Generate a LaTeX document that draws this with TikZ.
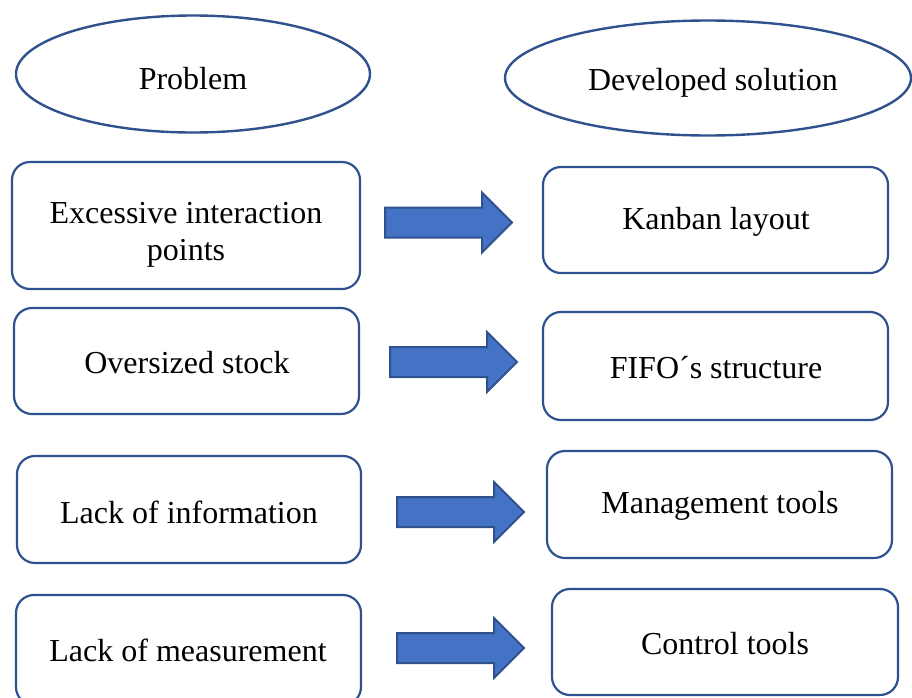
\documentclass[tikz,border=0pt]{standalone}
\usepackage{fontspec}
\setmainfont{Liberation Serif}
\usetikzlibrary{shapes.geometric}
\definecolor{edgeblue}{HTML}{2F528F}
\definecolor{fillblue}{HTML}{4472C4}
\tikzset{
  oval/.style={ellipse, draw=edgeblue, line width=2.4pt, inner sep=0pt},
  card/.style={draw=edgeblue, line width=2.2pt, rounded corners=18pt, inner sep=0pt},
  lbl/.style={font=\fontsize{32}{37}\selectfont, align=center, inner sep=0pt, yshift=-3pt},
  blk/.style={draw=edgeblue, fill=fillblue, line width=2pt, line join=miter}
}
\newcommand{\blockarr}[3]{%
  \draw[blk] (#1,#2) coordinate (#3) -- ++(0,-15) -- ++(97,0) -- ++(0,-15) -- ++(30,30) -- ++(-30,30) -- ++(0,-15) -- ++(-97,0) -- cycle;}
\begin{document}
\begin{tikzpicture}[x=1pt,y=-1pt]
\useasboundingbox (0,0) rectangle (912,697);
\begin{scope}
\clip (0,0) rectangle (912,697);
% headers
\node[oval, minimum width=354pt, minimum height=117pt] (hp) at (193,74) {};
\node[lbl] (hpt) at (193,76) {Problem};
\node[oval, minimum width=406pt, minimum height=115pt] (hs) at (708,78) {};
\node[lbl] (hst) at (713,80) {Developed solution};
% left boxes
\node[card, minimum width=348pt, minimum height=127pt] (p1) at (186,225.5) {};
\node[lbl] (p1t) at (186,232) {Excessive interaction\\points};
\node[card, minimum width=345pt, minimum height=106pt] (p2) at (186.5,361) {};
\node[lbl] (p2t) at (187,360) {Oversized stock};
\node[card, minimum width=344pt, minimum height=107pt] (p3) at (189,509.5) {};
\node[lbl] (p3t) at (189,509) {Lack of information};
\node[card, minimum width=345pt, minimum height=110pt] (p4) at (188.5,650) {};
\node[lbl] (p4t) at (188,647) {Lack of measurement};
% right boxes
\node[card, minimum width=345pt, minimum height=106pt] (s1) at (715.5,220) {};
\node[lbl] (s1t) at (716,219) {Kanban layout};
\node[card, minimum width=345pt, minimum height=108pt] (s2) at (715.5,366) {};
\node[lbl] (s2t) at (716,365) {FIFO´s structure};
\node[card, minimum width=345pt, minimum height=107pt] (s3) at (719.5,504.5) {};
\node[lbl] (s3t) at (720,503) {Management tools};
\node[card, minimum width=346pt, minimum height=106pt] (s4) at (725,642) {};
\node[lbl] (s4t) at (725,641) {Control tools};
\end{scope}
% block arrows
\blockarr{385}{222.5}{a1}
\blockarr{390}{362}{a2}
\blockarr{397}{512}{a3}
\blockarr{397}{648}{a4}
\end{tikzpicture}
\end{document}
